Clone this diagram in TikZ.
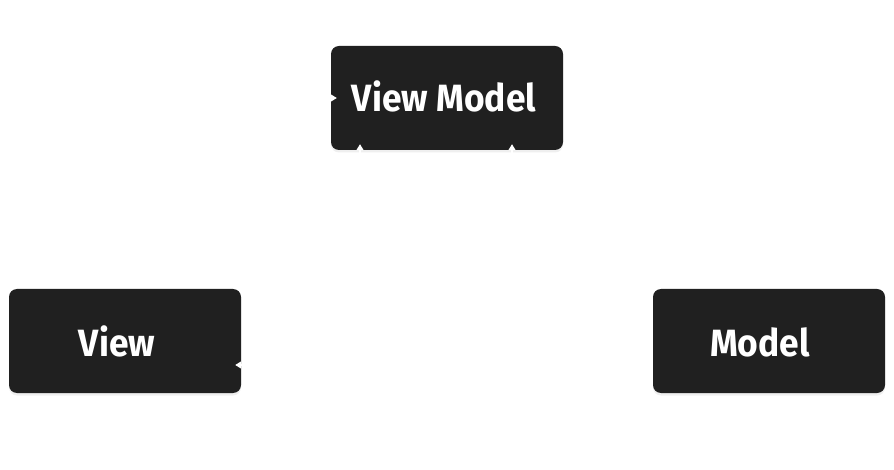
\documentclass[tikz,border=0pt]{standalone}
\usepackage{fontspec}
\setmainfont{Fira Sans}[FakeStretch=0.93]
\usetikzlibrary{arrows.meta,shadows}
\definecolor{boxfill}{HTML}{202020}
\tikzset{
  mvbox/.style={draw=none, fill=boxfill, rounded corners=8pt, minimum width=232pt, minimum height=104pt,
    inner sep=0pt, drop shadow={opacity=0.12, shadow xshift=0pt, shadow yshift=-2.5pt}},
  mvlabel/.style={text=white, font=\fontsize{38}{40}\selectfont\bfseries, inner sep=0pt, anchor=base},
  wire/.style={draw=white, line width=1.2pt, -{Triangle[width=7pt,length=6pt]}, shorten >=-6pt},
}
\begin{document}
\begin{tikzpicture}[x=1pt,y=-1pt]
\useasboundingbox[fill=white] (0,0) rectangle (894,470);
% connectors (white, only the tips show on the boxes)
\coordinate (c1) at (125,286);
\coordinate (c2) at (360,365);
\coordinate (c3) at (512,309);
\coordinate (c4) at (580,355);
\node[mvbox] (vm) at (447,98) {};
\node[mvbox] (v) at (125,341) {};
\node[mvbox] (m) at (769,341) {};
\node[mvlabel] (vmt) at (444,112) {View Model};
\node[mvlabel] (vt) at (117,356) {View};
\node[mvlabel] (mt) at (760,356) {Model};
\draw[wire] (c1) |- (vm.west);
\draw[wire] (c2) -- (c2 |- vm.south);
\draw[wire] (c2) -- (c2 -| v.east);
\draw[wire] (c3) -- (c3 |- vm.south);
\draw[wire, -, shorten >=0pt] (c3) -- (c3 -| m.west);
\draw[wire, -, shorten >=0pt] (c4) -- (c4 -| m.west);
\end{tikzpicture}
\end{document}
